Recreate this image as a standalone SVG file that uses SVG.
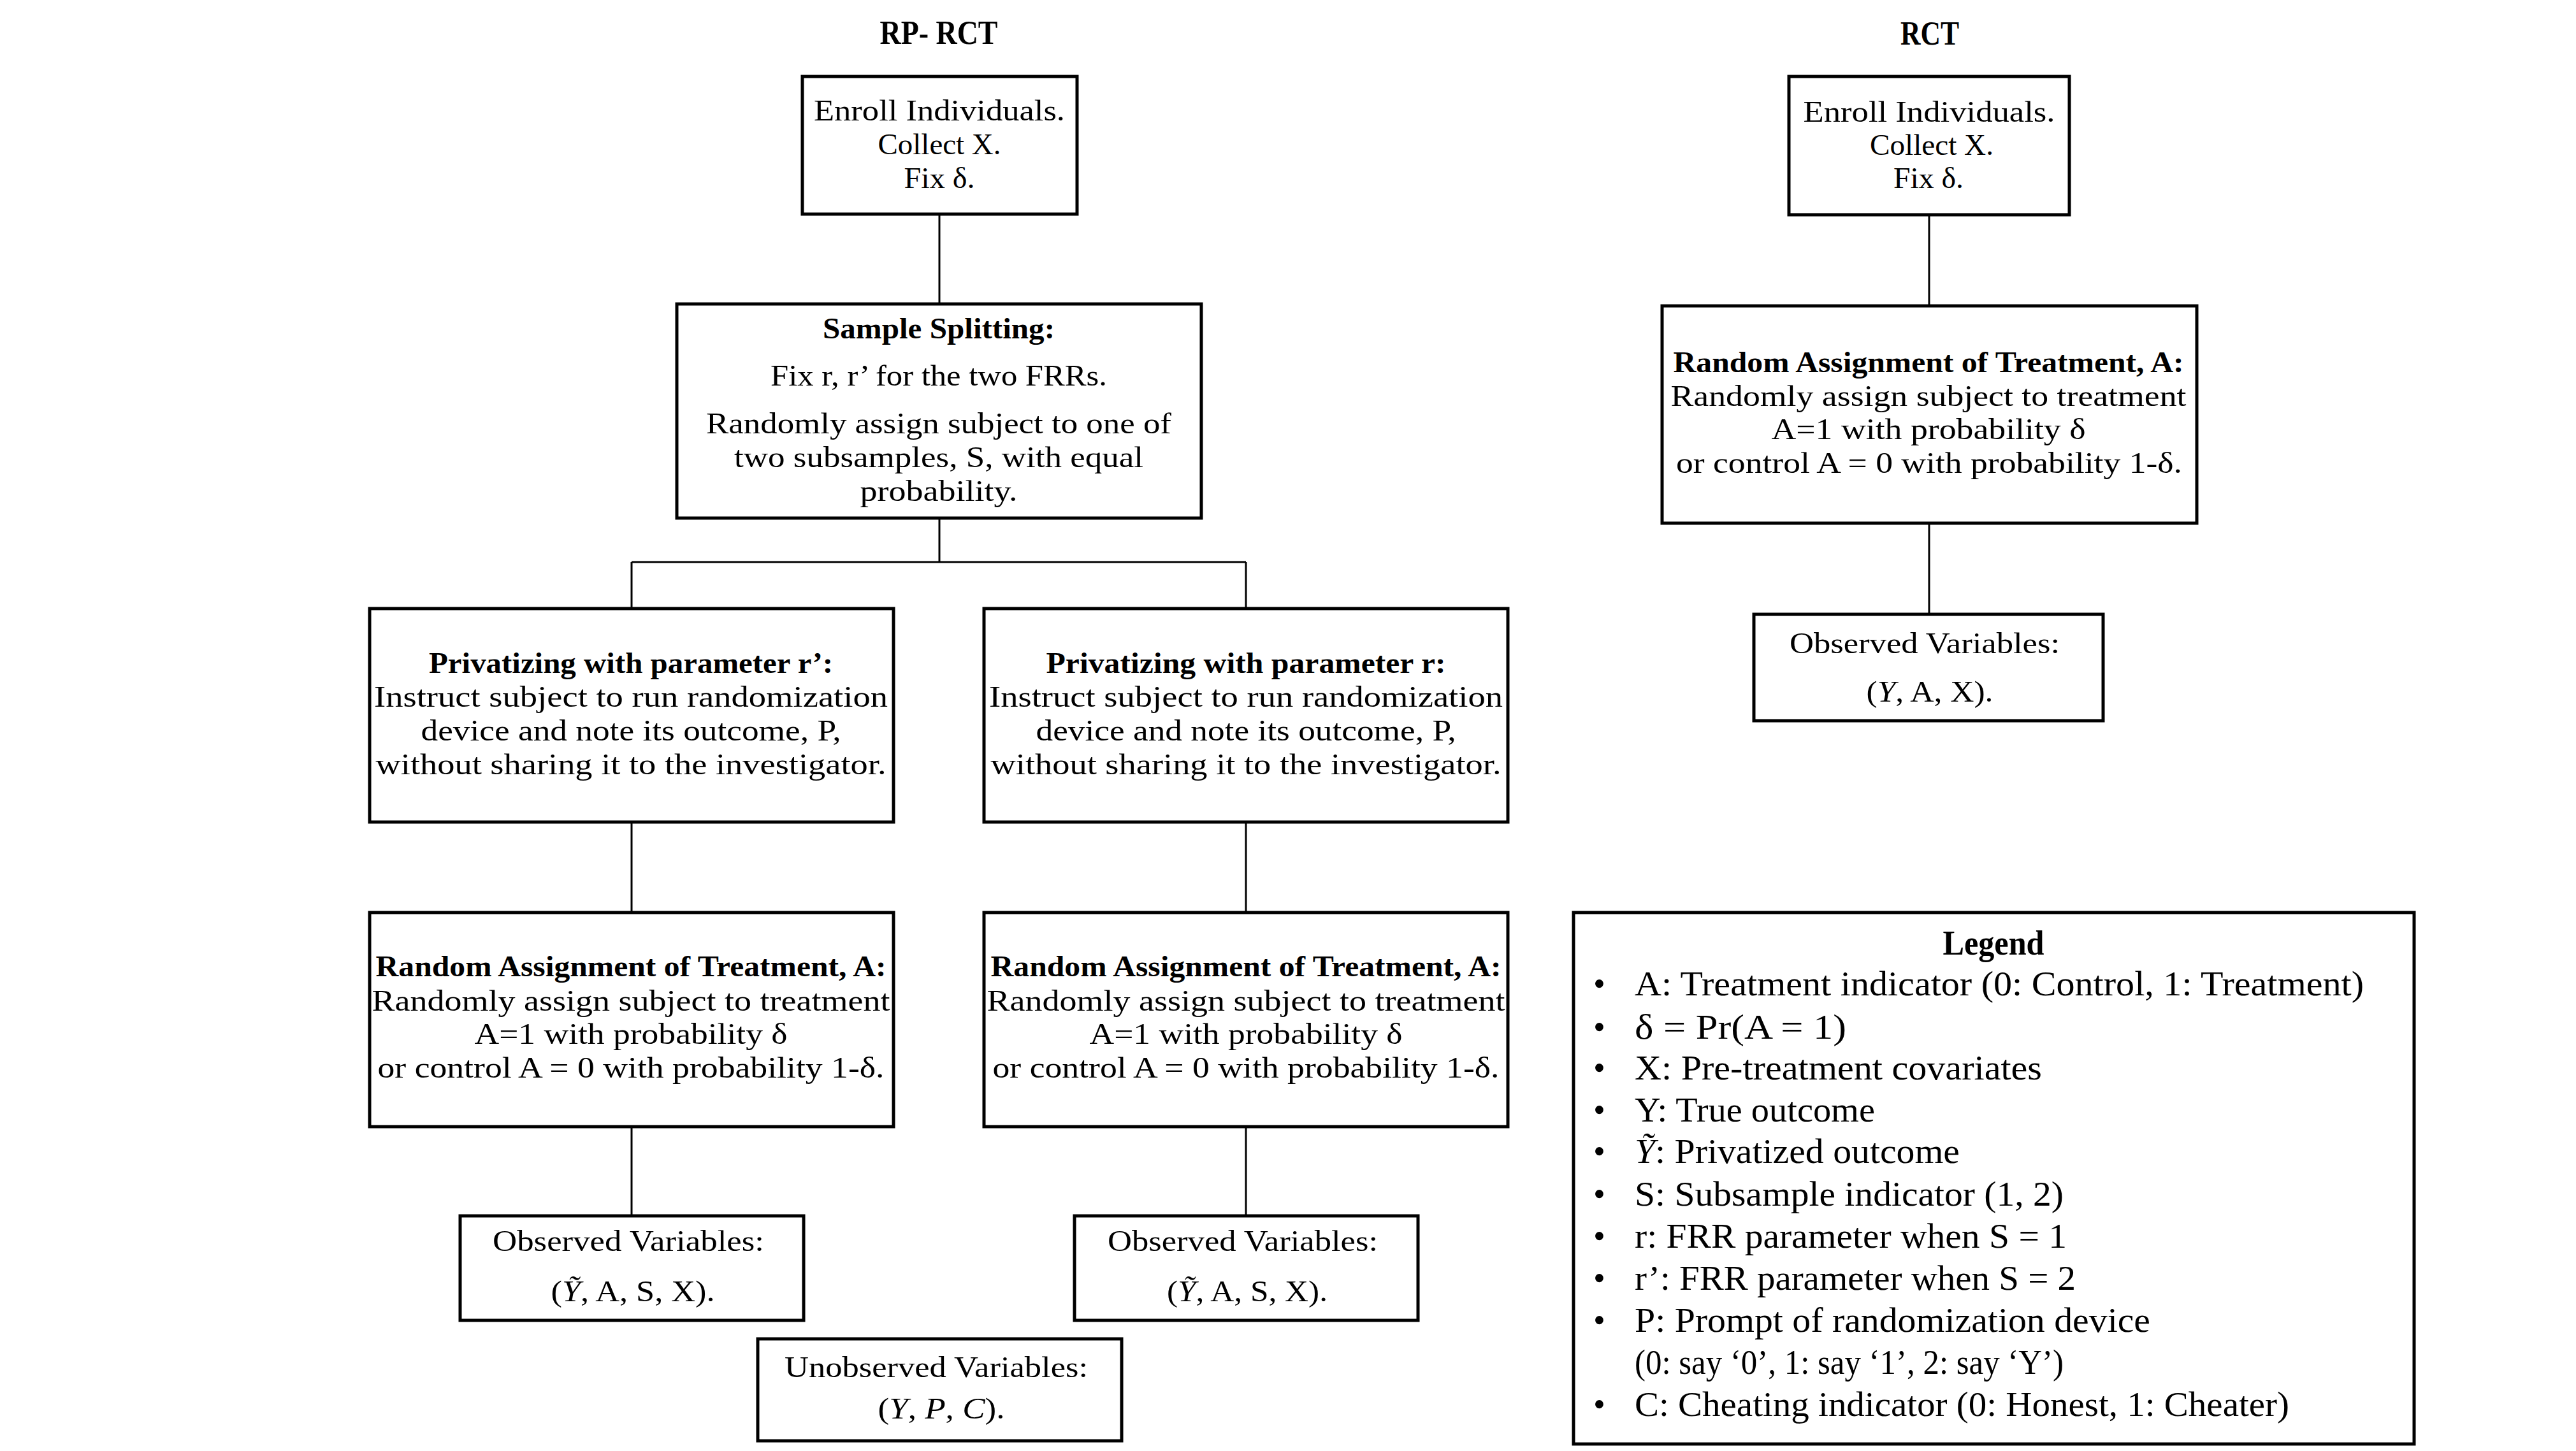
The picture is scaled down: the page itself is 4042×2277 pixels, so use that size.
<svg xmlns="http://www.w3.org/2000/svg" width="4042" height="2277" viewBox="0 0 4042 2277">
<style>
.box{fill:#fff;stroke:#000;stroke-width:5}
.con{fill:none;stroke:#000;stroke-width:3}
text{font-family:"Liberation Serif","Times New Roman",serif;fill:#000;font-size:46px}
.c{text-anchor:middle}
.b{font-weight:bold}
.t{font-size:52px;font-weight:bold;text-anchor:middle}
.lg{font-size:54px}
.i{font-style:italic}
</style>
<rect width="4042" height="2277" fill="#fff"/>
<g id="titles">
<text class="t" x="1473" y="69" textLength="185" lengthAdjust="spacingAndGlyphs">RP- RCT</text>
<text class="t" x="3028" y="70" textLength="92" lengthAdjust="spacingAndGlyphs">RCT</text>
</g>
<g id="connectors">
<path class="con" d="M1474 336V477"/>
<path class="con" d="M1474 813V882M991 882H1955M991 882V955M1955 882V955"/>
<path class="con" d="M991 1290V1432M991 1768V1908"/>
<path class="con" d="M1955 1290V1432M1955 1768V1908"/>
<path class="con" d="M3027 337V480M3027 821V964"/>
</g>
<g id="enroll-left">
<rect class="box" x="1259" y="120" width="431" height="216"/>
<text class="c" x="1474" y="189" textLength="394" lengthAdjust="spacingAndGlyphs">Enroll Individuals.</text>
<text class="c" x="1474" y="242" textLength="193" lengthAdjust="spacingAndGlyphs">Collect X.</text>
<text class="c" x="1474" y="295" textLength="111" lengthAdjust="spacingAndGlyphs">Fix δ.</text>
</g>
<g id="sample-splitting">
<rect class="box" x="1062" y="477" width="823" height="336"/>
<text class="c b" x="1473" y="531" textLength="364" lengthAdjust="spacingAndGlyphs">Sample Splitting:</text>
<text class="c" x="1473" y="605" textLength="528" lengthAdjust="spacingAndGlyphs">Fix r, r’ for the two FRRs.</text>
<text class="c" x="1473" y="680" textLength="730" lengthAdjust="spacingAndGlyphs">Randomly assign subject to one of</text>
<text class="c" x="1473" y="733" textLength="642" lengthAdjust="spacingAndGlyphs">two subsamples, S, with equal</text>
<text class="c" x="1473" y="786" textLength="247" lengthAdjust="spacingAndGlyphs">probability.</text>
</g>
<g id="privatizing-r-prime">
<rect class="box" x="580" y="955" width="822" height="335"/>
<text class="c b" x="990" y="1056" textLength="634" lengthAdjust="spacingAndGlyphs">Privatizing with parameter r’:</text>
<text class="c" x="990" y="1109" textLength="806" lengthAdjust="spacingAndGlyphs">Instruct subject to run randomization</text>
<text class="c" x="990" y="1162" textLength="659" lengthAdjust="spacingAndGlyphs">device and note its outcome, P,</text>
<text class="c" x="990" y="1215" textLength="801" lengthAdjust="spacingAndGlyphs">without sharing it to the investigator.</text>
</g>
<g id="privatizing-r">
<rect class="box" x="1544" y="955" width="822" height="335"/>
<text class="c b" x="1955" y="1056" textLength="627" lengthAdjust="spacingAndGlyphs">Privatizing with parameter r:</text>
<text class="c" x="1955" y="1109" textLength="806" lengthAdjust="spacingAndGlyphs">Instruct subject to run randomization</text>
<text class="c" x="1955" y="1162" textLength="659" lengthAdjust="spacingAndGlyphs">device and note its outcome, P,</text>
<text class="c" x="1955" y="1215" textLength="801" lengthAdjust="spacingAndGlyphs">without sharing it to the investigator.</text>
</g>
<g id="random-left">
<rect class="box" x="580" y="1432" width="822" height="336"/>
<text class="c b" x="990" y="1532" textLength="801" lengthAdjust="spacingAndGlyphs">Random Assignment of Treatment, A:</text>
<text class="c" x="990" y="1586" textLength="813" lengthAdjust="spacingAndGlyphs">Randomly assign subject to treatment</text>
<text class="c" x="990" y="1638" textLength="491" lengthAdjust="spacingAndGlyphs">A=1 with probability δ</text>
<text class="c" x="990" y="1691" textLength="795" lengthAdjust="spacingAndGlyphs">or control A = 0 with probability 1-δ.</text>
</g>
<g id="random-right">
<rect class="box" x="1544" y="1432" width="822" height="336"/>
<text class="c b" x="1955" y="1532" textLength="801" lengthAdjust="spacingAndGlyphs">Random Assignment of Treatment, A:</text>
<text class="c" x="1955" y="1586" textLength="813" lengthAdjust="spacingAndGlyphs">Randomly assign subject to treatment</text>
<text class="c" x="1955" y="1638" textLength="491" lengthAdjust="spacingAndGlyphs">A=1 with probability δ</text>
<text class="c" x="1955" y="1691" textLength="795" lengthAdjust="spacingAndGlyphs">or control A = 0 with probability 1-δ.</text>
</g>
<g id="observed-left">
<rect class="box" x="722" y="1908" width="539" height="164"/>
<text class="c" x="986" y="1963" textLength="426" lengthAdjust="spacingAndGlyphs">Observed Variables:</text>
<text class="c" x="993" y="2042" textLength="257" lengthAdjust="spacingAndGlyphs">(<tspan class="i">Ỹ</tspan>, A, S, X).</text>
</g>
<g id="observed-right">
<rect class="box" x="1686" y="1908" width="539" height="164"/>
<text class="c" x="1950" y="1963" textLength="424" lengthAdjust="spacingAndGlyphs">Observed Variables:</text>
<text class="c" x="1957" y="2042" textLength="252" lengthAdjust="spacingAndGlyphs">(<tspan class="i">Ỹ</tspan>, A, S, X).</text>
</g>
<g id="unobserved">
<rect class="box" x="1189" y="2101" width="571" height="160"/>
<text class="c" x="1469" y="2161" textLength="476" lengthAdjust="spacingAndGlyphs">Unobserved Variables:</text>
<text class="c" x="1477" y="2226" textLength="199" lengthAdjust="spacingAndGlyphs">(<tspan class="i">Y</tspan>, <tspan class="i">P</tspan>, <tspan class="i">C</tspan>).</text>
</g>
<g id="enroll-rct">
<rect class="box" x="2807" y="120" width="440" height="217"/>
<text class="c" x="3027" y="191" textLength="395" lengthAdjust="spacingAndGlyphs">Enroll Individuals.</text>
<text class="c" x="3031" y="243" textLength="194" lengthAdjust="spacingAndGlyphs">Collect X.</text>
<text class="c" x="3026" y="295" textLength="110" lengthAdjust="spacingAndGlyphs">Fix δ.</text>
</g>
<g id="random-rct">
<rect class="box" x="2608" y="480" width="839" height="341"/>
<text class="c b" x="3026" y="584" textLength="801" lengthAdjust="spacingAndGlyphs">Random Assignment of Treatment, A:</text>
<text class="c" x="3026" y="637" textLength="809" lengthAdjust="spacingAndGlyphs">Randomly assign subject to treatment</text>
<text class="c" x="3026" y="689" textLength="493" lengthAdjust="spacingAndGlyphs">A=1 with probability δ</text>
<text class="c" x="3027" y="742" textLength="794" lengthAdjust="spacingAndGlyphs">or control A = 0 with probability 1-δ.</text>
</g>
<g id="observed-rct">
<rect class="box" x="2752" y="964" width="548" height="167"/>
<text class="c" x="3020" y="1025" textLength="424" lengthAdjust="spacingAndGlyphs">Observed Variables:</text>
<text class="c" x="3028" y="1101" textLength="199" lengthAdjust="spacingAndGlyphs">(<tspan class="i">Y</tspan>, A, X).</text>
</g>
<g id="legend">
<rect class="box" x="2469" y="1432" width="1319" height="834"/>
<text class="lg b c" x="3128" y="1498" textLength="159" lengthAdjust="spacingAndGlyphs">Legend</text>
<g class="lg">
<text class="lg" x="2500" y="1562">•</text>
<text class="lg" x="2500" y="1630">•</text>
<text class="lg" x="2500" y="1694">•</text>
<text class="lg" x="2500" y="1760">•</text>
<text class="lg" x="2500" y="1825">•</text>
<text class="lg" x="2500" y="1892">•</text>
<text class="lg" x="2500" y="1958">•</text>
<text class="lg" x="2500" y="2024">•</text>
<text class="lg" x="2500" y="2090">•</text>
<text class="lg" x="2500" y="2222">•</text>
<text class="lg" x="2565" y="1562" textLength="1144" lengthAdjust="spacingAndGlyphs">A: Treatment indicator (0: Control, 1: Treatment)</text>
<text class="lg" x="2565" y="1630" textLength="332" lengthAdjust="spacingAndGlyphs">δ = Pr(A = 1)</text>
<text class="lg" x="2565" y="1694" textLength="639" lengthAdjust="spacingAndGlyphs">X: Pre-treatment covariates</text>
<text class="lg" x="2565" y="1760" textLength="377" lengthAdjust="spacingAndGlyphs">Y: True outcome</text>
<text class="lg" x="2565" y="1825" textLength="510" lengthAdjust="spacingAndGlyphs"><tspan class="i">Ỹ</tspan>: Privatized outcome</text>
<text class="lg" x="2565" y="1892" textLength="673" lengthAdjust="spacingAndGlyphs">S: Subsample indicator (1, 2)</text>
<text class="lg" x="2565" y="1958" textLength="678" lengthAdjust="spacingAndGlyphs">r: FRR parameter when S = 1</text>
<text class="lg" x="2565" y="2024" textLength="692" lengthAdjust="spacingAndGlyphs">r’: FRR parameter when S = 2</text>
<text class="lg" x="2565" y="2090" textLength="809" lengthAdjust="spacingAndGlyphs">P: Prompt of randomization device</text>
<text class="lg" x="2565" y="2156" textLength="673" lengthAdjust="spacingAndGlyphs">(0: say ‘0’, 1: say ‘1’, 2: say ‘Y’)</text>
<text class="lg" x="2565" y="2222" textLength="1027" lengthAdjust="spacingAndGlyphs">C: Cheating indicator (0: Honest, 1: Cheater)</text>
</g>
</g>
</svg>
